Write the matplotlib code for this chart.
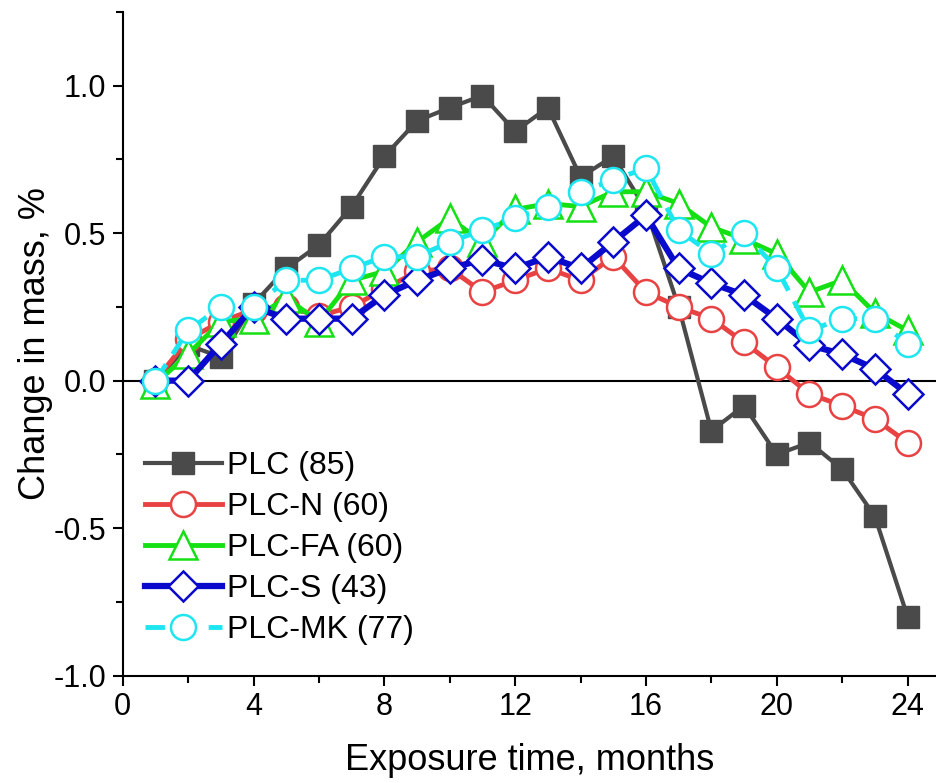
import numpy as np
import matplotlib
matplotlib.use("Agg")
import matplotlib.pyplot as plt
from matplotlib.ticker import MultipleLocator, FormatStrFormatter

plt.rcParams["font.family"] = ["Liberation Sans", "DejaVu Sans"]

months = np.arange(1, 25)

plc = [0.0, 0.12, 0.08, 0.26, 0.38, 0.46, 0.59, 0.76, 0.88, 0.925, 0.966, 0.845,
       0.925, 0.69, 0.76, 0.58, 0.25, -0.17, -0.085, -0.25, -0.21, -0.30, -0.46, -0.80]
plc_n = [0.0, 0.14, 0.20, 0.24, 0.25, 0.22, 0.25, 0.31, 0.37, 0.38, 0.30, 0.34,
         0.38, 0.34, 0.42, 0.30, 0.25, 0.21, 0.13, 0.045, -0.045, -0.085, -0.13, -0.21]
plc_fa = [-0.01, 0.09, 0.20, 0.21, 0.28, 0.20, 0.34, 0.37, 0.47, 0.55, 0.47, 0.58,
          0.60, 0.59, 0.64, 0.64, 0.60, 0.52, 0.48, 0.43, 0.30, 0.34, 0.23, 0.17]
plc_s = [0.0, 0.0, 0.125, 0.25, 0.21, 0.21, 0.21, 0.29, 0.34, 0.38, 0.41, 0.38,
         0.42, 0.38, 0.47, 0.56, 0.38, 0.33, 0.29, 0.21, 0.12, 0.09, 0.04, -0.045]
plc_mk = [0.0, 0.17, 0.25, 0.25, 0.34, 0.34, 0.38, 0.42, 0.42, 0.47, 0.51, 0.55,
          0.59, 0.64, 0.68, 0.72, 0.51, 0.43, 0.50, 0.38, 0.17, 0.21, 0.21, 0.125]

labels = ["PLC (85)", "PLC-N (60)", "PLC-FA (60)", "PLC-S (43)", "PLC-MK (77)"]

fig = plt.figure(figsize=(9.37, 7.83), dpi=100)
ax = fig.add_axes([0.131, 0.137, 0.869, 0.848])

ax.axhline(0, color="black", lw=1.5, zorder=1)

ax.plot(months, plc, color="#4a4a4a", lw=3, marker="s", ms=16,
        mfc="#4a4a4a", mec="#4a4a4a", label=labels[0], zorder=2)
ax.plot(months, plc_n, color="#e84242", lw=3.5, marker="o", ms=18,
        mfc="white", mec="#e84242", mew=1.8, label=labels[1], zorder=3)
ax.plot(months, plc_fa, color="#14e014", lw=3.5, marker="^", ms=20,
        mfc="white", mec="#14e014", mew=1.8, label=labels[2], zorder=4)
ax.plot(months, plc_s, color="#0a0acc", lw=4.5, marker="D", ms=15,
        mfc="white", mec="#0a0acc", mew=1.8, label=labels[3], zorder=5)
ax.plot(months, plc_mk, color="#1ee6f0", lw=3.5, ls=(0, (4, 2.5)), marker="o", ms=18,
        mfc="white", mec="#1ee6f0", mew=1.8, label=labels[4], zorder=6)

ax.set_xlim(0, 24.9)
ax.set_ylim(-1.0, 1.25)
ax.xaxis.set_major_locator(MultipleLocator(4))
ax.xaxis.set_minor_locator(MultipleLocator(2))
ax.yaxis.set_major_locator(MultipleLocator(0.5))
ax.yaxis.set_minor_locator(MultipleLocator(0.25))
ax.yaxis.set_major_formatter(FormatStrFormatter("%.1f"))

for s in ["top", "right"]:
    ax.spines[s].set_visible(False)
for s in ["left", "bottom"]:
    ax.spines[s].set_linewidth(1.5)

ax.tick_params(which="major", direction="out", length=7, width=1.5, labelsize=22, pad=5)
ax.tick_params(which="minor", direction="out", length=5, width=1.5)

ax.set_xlabel("Exposure time, months", fontsize=26, labelpad=15)
ax.set_ylabel("Change in mass, %", fontsize=26, labelpad=0)

ax.legend(loc="lower left", frameon=False, fontsize=23, handlelength=2.4,
          handletextpad=0.15, labelspacing=0.34, borderaxespad=0.3,
          bbox_to_anchor=(0.0, 0.013))

fig.savefig("out.png", dpi=100)
